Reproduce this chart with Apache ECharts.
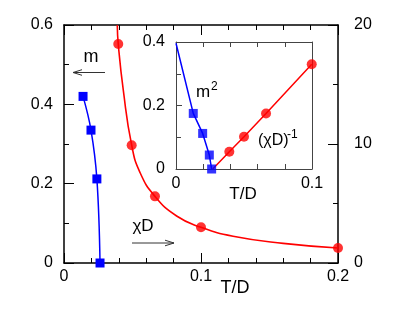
<!DOCTYPE html>
<html>
<head>
<meta charset="utf-8">
<script src="https://cdn.jsdelivr.net/npm/echarts@6/dist/echarts.min.js"></script>
<style>html,body{margin:0;padding:0;background:#fff;}#c{width:415px;height:312px;}</style>
</head>
<body>
<div id="c"></div>
<script>
// ---- data ----
// main panel: order parameter m (left axis) vs T/D
var mT = [0.0139, 0.0197, 0.0240, 0.0263];
var mVal = [0.42, 0.335, 0.212, 0.0];
// main panel: susceptibility chi*D (right axis) markers
var chiT = [0.0396, 0.0494, 0.0664, 0.100, 0.200];
var chiVal = [18.4, 9.9, 5.6, 3.0, 1.26];
// main panel: drawn chi*D curve
var chiCurveT = [0.0389, 0.0396, 0.0433, 0.0494, 0.0555, 0.0664, 0.0822, 0.100, 0.1234, 0.160, 0.200];
var chiCurveV = [20.0, 18.4, 14.5, 9.9, 7.6, 5.6, 3.95, 3.0, 2.25, 1.65, 1.26];
// inset: m^2 vs T/D
var m2T = [0.0127, 0.0196, 0.0245, 0.0262];
var m2Val = [0.175, 0.112, 0.044, 0.0];
var m2LineT = [0.0, 0.0127, 0.0196, 0.0245, 0.0262];
var m2LineV = [0.396, 0.175, 0.112, 0.044, 0.0];
// inset: inverse susceptibility
var invT = [0.0392, 0.0500, 0.0662, 0.0998];
var invVal = [0.0545, 0.1017, 0.175, 0.330];
var invLineT = [0.0270, 0.0392, 0.0500, 0.0662, 0.0998];
var invLineV = [0.0, 0.0545, 0.1017, 0.175, 0.330];
// axis ranges / tick steps
var mainX = [0, 0.2, 0.1, 5];
var mainYL = [0, 0.6, 0.2, 2];
var mainYR = [0, 20, 10, 2];
var insX = [0, 0.1, 0.1, 5];
var insY = [0, 0.4, 0.2, 2];

function zip(a, b) { return a.map(function (v, i) { return [v, b[i]]; }); }

var FONT = 'Liberation Sans';
var BLUE = '#0000ff', RED = '#ff0000';

function axis(r, opts) {
  var o = {
    type: 'value', min: r[0], max: r[1], interval: r[2],
    splitLine: { show: false },
    axisLine: { show: true, onZero: false, lineStyle: { color: opts.lineColor || '#000', width: opts.lineWidth || 1.5 } },
    axisTick: { show: opts.ticks !== false, inside: true, length: opts.major || 10, lineStyle: { color: opts.lineColor || '#000', width: 1 } },
    minorTick: { show: opts.ticks !== false, splitNumber: r[3], length: 5, lineStyle: { color: opts.lineColor || '#000', width: 1 } },
    axisLabel: { show: opts.labels !== false, color: '#000', fontFamily: FONT, fontSize: 16, margin: opts.margin || 10, hideOverlap: false }
  };
  for (var k in opts.extra || {}) o[k] = opts.extra[k];
  return o;
}

var chart = echarts.init(document.getElementById('c'), null, { renderer: 'canvas' });

function arrow(x1, x2, y) {
  var dir = x2 > x1 ? -1 : 1;
  return {
    type: 'group', children: [
      { type: 'line', shape: { x1: x1, y1: y, x2: x2, y2: y }, style: { stroke: '#333', lineWidth: 1 } },
      { type: 'polyline', shape: { points: [[x2 + dir * 9, y - 2.8], [x2, y], [x2 + dir * 9, y + 2.8]] }, style: { stroke: '#333', lineWidth: 1, fill: null } }
    ]
  };
}

var option = {
  animation: false,
  backgroundColor: '#fff',
  grid: [
    { left: 64, top: 25, width: 274, height: 238 },
    { left: 176, top: 42, width: 136, height: 127, show: true, backgroundColor: '#fff', borderWidth: 0 }
  ],
  xAxis: [
    axis(mainX, { extra: { gridIndex: 0, position: 'bottom' }, margin: 6 }),
    axis(mainX, { extra: { gridIndex: 0, position: 'top' }, labels: false }),
    axis(insX, { extra: { gridIndex: 1, position: 'bottom' }, margin: 7, lineColor: '#444', lineWidth: 1, major: 6 }),
    axis(insX, { extra: { gridIndex: 1, position: 'top' }, labels: false, lineColor: '#444', lineWidth: 1, major: 6 })
  ],
  yAxis: [
    axis(mainYL, { extra: { gridIndex: 0, position: 'left' }, margin: 11 }),
    axis(mainYR, { extra: { gridIndex: 0, position: 'right' }, margin: 16 }),
    axis(insY, { extra: { gridIndex: 1, position: 'left' }, margin: 11, lineColor: '#444', lineWidth: 1, major: 6 }),
    axis(insY, { extra: { gridIndex: 1, position: 'right' }, labels: false, ticks: false, lineColor: '#444', lineWidth: 1 })
  ],
  series: [
    { type: 'line', xAxisIndex: 0, yAxisIndex: 0, data: zip(mT, mVal), smooth: 0.4,
      symbol: 'rect', symbolSize: 9, itemStyle: { color: BLUE }, lineStyle: { color: BLUE, width: 1.5 }, z: 3 },
    { type: 'line', xAxisIndex: 0, yAxisIndex: 1, data: zip(chiCurveT, chiCurveV), smooth: 0.5,
      showSymbol: false, symbol: 'none', lineStyle: { color: RED, width: 1.6 }, clip: true, z: 2 },
    { type: 'scatter', xAxisIndex: 0, yAxisIndex: 1, data: zip(chiT, chiVal),
      symbol: 'circle', symbolSize: 10, itemStyle: { color: RED }, clip: false, z: 4 },
    { type: 'line', xAxisIndex: 2, yAxisIndex: 2, data: zip(m2LineT, m2LineV),
      showSymbol: false, symbol: 'none', lineStyle: { color: BLUE, width: 1.5 }, z: 5 },
    { type: 'scatter', xAxisIndex: 2, yAxisIndex: 2, data: zip(m2T, m2Val),
      symbol: 'rect', symbolSize: 9, itemStyle: { color: BLUE }, clip: false, z: 7 },
    { type: 'line', xAxisIndex: 2, yAxisIndex: 2, data: zip(invLineT, invLineV),
      showSymbol: false, symbol: 'none', lineStyle: { color: RED, width: 1.5 }, z: 5 },
    { type: 'scatter', xAxisIndex: 2, yAxisIndex: 2, data: zip(invT, invVal),
      symbol: 'circle', symbolSize: 10, itemStyle: { color: RED }, clip: false, z: 6 }
  ],
  graphic: [
    { type: 'text', x: 235, y: 288, style: { text: 'T/D', font: '18px "Liberation Sans"', fill: '#000', textAlign: 'center', textVerticalAlign: 'middle' } },
    { type: 'text', x: 243, y: 194, style: { text: 'T/D', font: '17px "Liberation Sans"', fill: '#000', textAlign: 'center', textVerticalAlign: 'middle' } },
    { type: 'text', x: 91, y: 57, style: { text: 'm', font: '18px "Liberation Sans"', fill: '#000', textAlign: 'center', textVerticalAlign: 'middle' } },
    arrow(105, 73, 72.5),
    { type: 'text', x: 143, y: 226, style: { text: 'χD', font: '17px "Liberation Sans"', fill: '#000', textAlign: 'center', textVerticalAlign: 'middle' } },
    arrow(132, 174, 243),
    { type: 'text', x: 196, y: 92, style: { text: 'm', font: '17px "Liberation Sans"', fill: '#000', textAlign: 'left', textVerticalAlign: 'middle' } },
    { type: 'text', x: 211, y: 87, style: { text: '2', font: '12px "Liberation Sans"', fill: '#000', textAlign: 'left', textVerticalAlign: 'middle' } },
    { type: 'text', x: 258, y: 141, style: { text: '(χD)', font: '16px "Liberation Sans"', fill: '#000', textAlign: 'left', textVerticalAlign: 'middle' } },
    { type: 'text', x: 287, y: 135, style: { text: '-1', font: '12px "Liberation Sans"', fill: '#000', textAlign: 'left', textVerticalAlign: 'middle' } }
  ]
};
chart.setOption(option);
</script>
</body>
</html>
